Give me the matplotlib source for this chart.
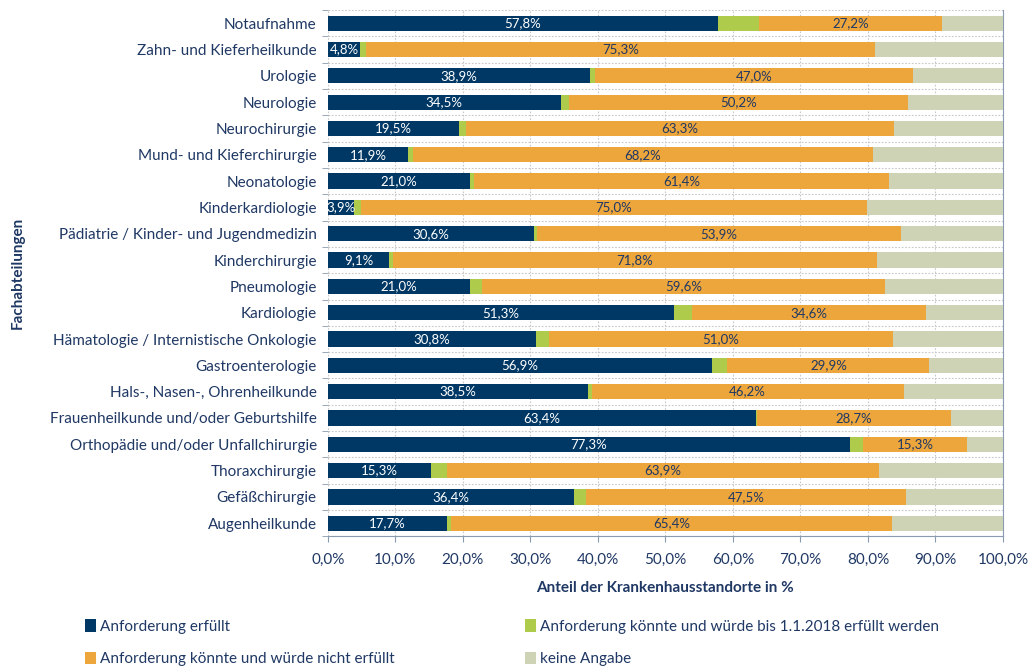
import matplotlib
matplotlib.use("Agg")
import matplotlib.pyplot as plt
from matplotlib.patches import Patch
from matplotlib.ticker import MultipleLocator, FuncFormatter
import numpy as np

categories = [
    "Notaufnahme", "Zahn- und Kieferheilkunde", "Urologie", "Neurologie",
    "Neurochirurgie", "Mund- und Kieferchirurgie", "Neonatologie",
    "Kinderkardiologie", "Pädiatrie / Kinder- und Jugendmedizin",
    "Kinderchirurgie", "Pneumologie", "Kardiologie",
    "Hämatologie / Internistische Onkologie", "Gastroenterologie",
    "Hals-, Nasen-, Ohrenheilkunde", "Frauenheilkunde und/oder Geburtshilfe",
    "Orthopädie und/oder Unfallchirurgie", "Thoraxchirurgie",
    "Gefäßchirurgie", "Augenheilkunde",
]
erfuellt = [57.8, 4.8, 38.9, 34.5, 19.5, 11.9, 21.0, 3.9, 30.6, 9.1, 21.0,
            51.3, 30.8, 56.9, 38.5, 63.4, 77.3, 15.3, 36.4, 17.7]
bis_2018 = [6.0, 0.9, 0.7, 1.2, 1.0, 0.7, 0.7, 1.0, 0.4, 0.5, 1.9,
            2.7, 1.9, 2.3, 0.6, 0.2, 2.0, 2.4, 1.8, 0.5]
nicht_erfuellt = [27.2, 75.3, 47.0, 50.2, 63.3, 68.2, 61.4, 75.0, 53.9, 71.8,
                  59.6, 34.6, 51.0, 29.9, 46.2, 28.7, 15.3, 63.9, 47.5, 65.4]
keine_angabe = [100 - a - b - c for a, b, c in zip(erfuellt, bis_2018, nicht_erfuellt)]

series_names = ["Anforderung erfüllt",
                "Anforderung könnte und würde bis 1.1.2018 erfüllt werden",
                "Anforderung könnte und würde nicht erfüllt",
                "keine Angabe"]
colors = ["#003865", "#AECB4B", "#EDA63C", "#CDD3B4"]
text_col = "#1F3864"

plt.rcParams['font.family'] = ['Lato', 'DejaVu Sans']

fig = plt.figure(figsize=(10.34, 6.68), dpi=100)
ax = fig.add_axes([0.317, 0.197, 0.653, 0.788])

y = np.arange(len(categories))
h = 0.58
left = np.zeros(len(categories))
data = [erfuellt, bis_2018, nicht_erfuellt, keine_angabe]
for vals, col, name in zip(data, colors, series_names):
    vals = np.array(vals)
    ax.barh(y, vals, left=left, height=h, color=col, label=name, zorder=3)
    left = left + vals

for i in range(len(categories)):
    ax.text(erfuellt[i] / 2, y[i], f"{erfuellt[i]:.1f}%".replace(".", ","),
            ha="center", va="center", color="white", fontsize=9.5, zorder=4)
    start = erfuellt[i] + bis_2018[i]
    ax.text(start + nicht_erfuellt[i] / 2, y[i],
            f"{nicht_erfuellt[i]:.1f}%".replace(".", ","),
            ha="center", va="center", color=text_col, fontsize=9.5, zorder=4)

ax.set_xlim(0, 100)
ax.set_ylim(len(categories) - 0.5, -0.5)
ax.set_yticks(y)
ax.set_yticklabels(categories, fontsize=11, color=text_col)
ax.tick_params(axis="y", length=0, pad=8)
ax.set_yticks(np.arange(-0.5, len(categories), 1), minor=True)
ax.tick_params(axis="y", which="minor", length=4, color="#8A9AB0")
ax.xaxis.set_major_locator(MultipleLocator(10))
ax.xaxis.set_major_formatter(FuncFormatter(lambda v, p: f"{v:.1f}%".replace(".", ",")))
ax.tick_params(axis="x", labelsize=11, colors="#8A9AB0", labelcolor=text_col, length=4, pad=8)

ax.grid(axis="x", which="major", color="#C8C8C8", linestyle=(0, (1.5, 1.5)), linewidth=0.8, zorder=0)
ax.grid(axis="y", which="minor", color="#C8C8C8", linestyle=(0, (1.5, 1.5)), linewidth=0.8, zorder=0)

for s in ["top", "left"]:
    ax.spines[s].set_visible(False)
ax.spines["bottom"].set_color("#8A9AB0")
ax.spines["right"].set_color("#8A9AB0")
ax.spines["right"].set_linewidth(0.8)

ax.set_xlabel("Anteil der Krankenhausstandorte in %", fontsize=11, fontweight="bold",
              color=text_col, labelpad=10)
ax.set_ylabel("Fachabteilungen", fontsize=11, fontweight="bold", color=text_col, labelpad=18)

order = [0, 2, 1, 3]
handles = [Patch(facecolor=colors[k], edgecolor="none") for k in order]
labels = [series_names[k] for k in order]
leg = fig.legend(handles, labels, ncol=2, loc="lower left",
                 bbox_to_anchor=(0.069, -0.018), frameon=False, fontsize=11,
                 handlelength=0.7, handleheight=0.9, handletextpad=0.3,
                 columnspacing=8.5, labelspacing=1.15)
for t in leg.get_texts():
    t.set_color(text_col)

fig.savefig("out.png", dpi=100)
